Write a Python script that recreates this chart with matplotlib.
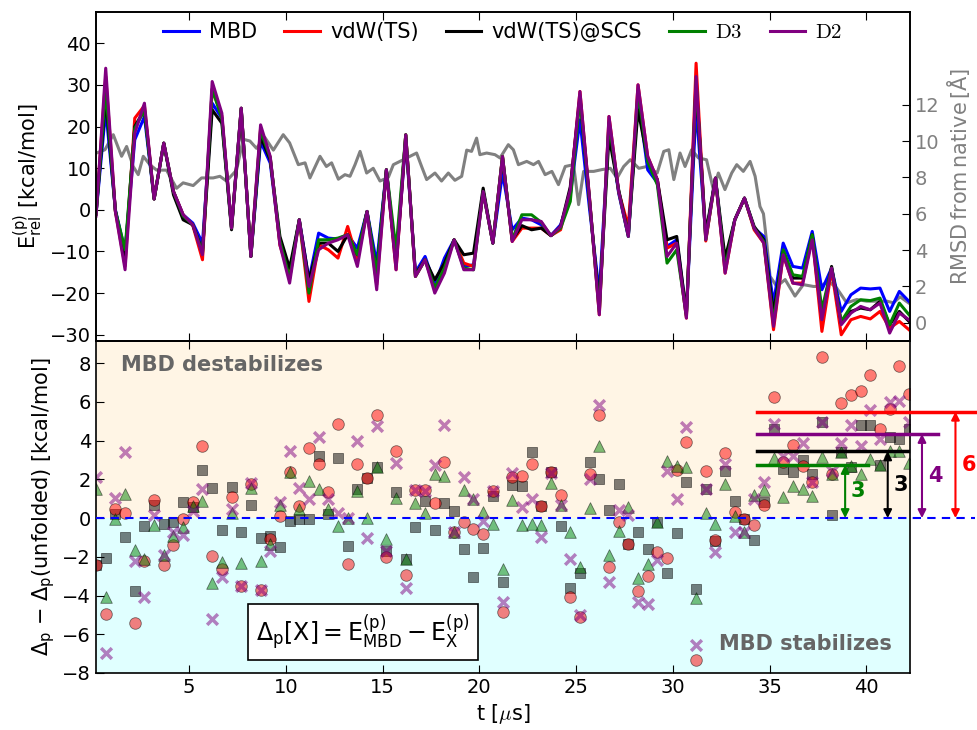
import matplotlib
matplotlib.use("Agg")
import matplotlib.pyplot as plt
import numpy as np

plt.rcParams['mathtext.fontset'] = 'dejavusans'
plt.rcParams['axes.linewidth'] = 1.2

# sampling times along the trajectory [us]
t = np.round(np.arange(85) * 0.5 + 0.2, 1)

# relative energies E_rel^(p) [kcal/mol]
e_mbd = [-1, 24, 0, -10, 16.8, 22.4, 2.6, 16, 4.4, -1.2,
         -3.2, -8, 25.6, 22, -4.4, 24.4, -11.2, 16.4, 11.2, -8,
         -15.5, -2.4, -16.8, -5.6, -6.8, -7, -6, -9.2, -0.4, -12.8,
         9.6, -13, 16.5, -15, -11.2, -18, -11.6, -7.2, -13.6, -13.2,
         4.4, -8, 8.8, -4.8, -2, -2.4, -3.6, -6.2, -3.6, 3.5,
         21.6, 0, -20, 20, 4, -6.4, 27, 9.6, 6.5, -8.8,
         -7.2, -25, 24.8, -6.4, 7.6, -13.6, -2.4, 2.8, -4.4, -6.4,
         -22.4, -8, -13.6, -14, -5.2, -19.2, -14, -24.4, -20.4, -18.8,
         -19, -18.8, -24.4, -19.6, -22]
e_ts = [-1, 32, -0.4, -13.5, 22, 25, 2.6, 16, 4.4, -1.2,
        -3.8, -12, 29, 22.5, -4.4, 24.4, -11.2, 19.5, 12.5, -8.5,
        -16, -2.4, -22, -8.4, -9.6, -11.6, -4, -12, -0.4, -18,
        9.6, -14.4, 18, -16, -12, -19, -14, -7.2, -12.8, -13.6,
        4.4, -8, 12.8, -7.6, -4.4, -4.4, -4.4, -6.2, -4.8, 4.8,
        28.4, 2.5, -25.2, 22.4, 4.4, -4, 30, 12.8, 7.2, -9.2,
        -8, -26, 35.2, -7.5, 7.6, -15.2, -2.4, 2.8, -4.8, -8,
        -28.8, -10.8, -17.6, -17.6, -6.4, -29.2, -14.4, -30, -26.4, -25.6,
        -26.2, -24.4, -28.4, -26.8, -28.8]
e_scs = [-1, 27, -0.2, -11, 20, 24, 2.6, 16, 3.6, -2.4,
         -3.6, -10, 24, 20.8, -4.8, 24, -11.2, 17.6, 12, -6.4,
         -14, -2.4, -17, -8, -8, -10, -6, -10.8, -0.4, -15.2,
         9.6, -13, 18, -15.5, -12, -16.8, -12.8, -7.2, -10.8, -10.4,
         5.2, -8, 12.5, -7.2, -3.8, -4.8, -4.4, -6.2, -4, 5.5,
         27, 2, -23, 17.6, 4.8, -6, 24, 12, 7.2, -7.2,
         -6.4, -25, 30, -5.6, 7.6, -11.6, -2.4, 2.8, -4, -7.2,
         -24.8, -10, -16.4, -16.4, -6, -25.6, -13.6, -27.2, -24.4, -23.6,
         -24, -22, -27.6, -24.4, -26.8]
e_d3 = [-1, 29, -0.3, -9.6, 19.5, 24, 2.6, 16, 4.4, -1.5,
        -3.6, -10.4, 29, 22, -4.4, 24.4, -11.2, 19, 12.5, -7.5,
        -16.5, -2.4, -20, -7.2, -7.2, -6.8, -6, -10.8, -0.4, -15.2,
        9.6, -9.6, 18, -16, -12, -18.8, -14, -7.2, -14, -14.4,
        4.4, -8, 12.8, -7.2, -1.2, -1.2, -3, -6.2, -4.4, 2,
        27, 2, -24.5, 21, 4.4, -6.4, 28.5, 11.5, 6, -12.8,
        -9.6, -25.5, 31, -7.2, 7.6, -14, -2.4, 2.8, -4.4, -7.6,
        -27, -9.6, -15.6, -16, -6, -24, -14, -26.8, -23.2, -21.6,
        -21.8, -21.2, -27.6, -22.4, -25.2]
e_d2 = [-1.5, 34, -0.5, -14.4, 18.4, 25.6, 2.6, 16, 4.4, -1.2,
        -3.6, -10.8, 30.8, 23.2, -4.4, 24.4, -11.2, 20.4, 12.8, -8.4,
        -17.6, -2.4, -18.4, -9.6, -8, -7.2, -6, -13.6, -0.4, -19.2,
        9.6, -14.4, 18, -16, -12, -20, -15.2, -7.2, -14.4, -14.4,
        4.4, -8, 12.8, -7.6, -2.4, -2.4, -2.8, -6.2, -4, 4.8,
        28.4, 2.5, -25.2, 22.4, 4.4, -6.4, 30, 12.8, 7.2, -11.2,
        -8, -26, 32, -7.2, 7.6, -15.2, -2.4, 2.8, -4.4, -8,
        -28, -10.8, -17.6, -18, -7.2, -26.4, -14, -27.6, -24.8, -23.2,
        -24, -22.4, -29.6, -24.8, -26.4]

# RMSD from the native structure [A]
rmsd_t = [0.22, 0.66, 1.09, 1.52, 1.78, 2.12, 2.38, 2.64, 2.98, 3.33,
          3.84, 4.36, 4.70, 5.22, 5.65, 6.25, 6.60, 6.94, 7.46, 7.80,
          8.15, 8.49, 8.92, 9.36, 9.87, 10.20, 10.65, 11.00, 11.25, 11.77,
          12.10, 12.37, 12.72, 13.06, 13.32, 13.58, 13.84, 14.18, 14.52, 14.87,
          15.30, 15.56, 15.90, 16.42, 16.76, 17.02, 17.28, 17.71, 18.05, 18.40,
          18.74, 19.09, 19.35, 19.60, 19.86, 20.03, 20.38, 20.81, 21.07, 21.50,
          21.76, 22.02, 22.45, 22.80, 23.06, 23.40, 23.75, 24.09, 24.44, 24.87,
          25.13, 25.39, 25.91, 26.34, 26.77, 27.12, 27.46, 27.80, 28.24, 28.67,
          29.19, 29.53, 29.79, 30.05, 30.37, 30.63, 30.97, 31.32, 31.74, 32.09,
          32.35, 32.69, 33.04, 33.30, 33.64, 33.99, 34.25, 34.50, 34.68, 34.85,
          35.02, 35.37, 35.80, 36.31, 36.74, 37.26, 37.60, 38.03, 38.46, 38.98,
          39.50, 40.01, 40.53, 41.05, 41.40, 41.74, 42.17]
rmsd = [9.34, 9.52, 10.35, 9.16, 9.7, 8.6, 8.15, 9.16, 8.7, 8.4,
        8.4, 7.4, 7.7, 7.55, 7.97, 7.97, 8.06, 7.8, 8.4, 10.1,
        10.0, 9.6, 10.2, 9.5, 10.35, 9.9, 8.7, 8.8, 7.97, 9.16,
        8.6, 8.8, 7.9, 8.15, 8.06, 8.7, 9.43, 8.24, 8.5, 7.8,
        8.0, 8.7, 8.88, 9.16, 9.34, 8.6, 7.88, 8.24, 7.8, 8.24,
        7.84, 8.06, 9.5, 9.43, 10.16, 9.25, 9.34, 9.25, 9.07, 9.8,
        9.52, 8.7, 8.88, 8.7, 8.88, 8.15, 8.33, 7.6, 8.6, 8.7,
        6.5, 8.33, 8.33, 8.43, 8.5, 7.97, 8.6, 8.97, 8.5, 8.6,
        8.24, 9.43, 9.52, 7.88, 9.34, 8.6, 9.52, 9.07, 8.97, 7.33,
        8.24, 7.33, 8.24, 8.7, 8.33, 8.88, 8.06, 6.4, 6.0, 4.4,
        2.56, 2.0, 2.38, 1.47, 2.1, 2.0, 2.0, 2.29, 1.92, 1.1,
        1.28, 1.19, 1.19, 1.19, 1.1, 1.43, 1.1]

# Delta_p - Delta_p(unfolded) [kcal/mol]
d_ts = [-2.4, -4.97, 0.47, 0.24, -5.4, -2.21, 0.95, -2.44, -1.4, -0.05,
        0.85, 3.7, -1.95, -2.64, 1.07, -3.5, 1.76, -3.7, -1.09, 0.12,
        2.4, 0.64, 3.63, 2.8, 1.33, 4.87, -2.38, 2.8, 2.06, 5.34,
        -2.0, 3.49, -2.95, 1.45, 1.45, 0.76, 2.92, -0.7, -0.22, -0.54,
        -0.83, 1.38, -4.85, 2.1, 2.19, 2.8, 0.64, 2.37, 1.21, -4.08,
        -5.1, 2.28, 5.35, -2.5, -0.22, -1.35, -3.77, -2.99, -1.74, -2.04,
        2.49, 3.92, -7.34, 2.42, -1.14, 3.35, 0.33, -0.05, -0.36, 0.67,
        6.25, 2.92, 3.78, 2.71, 1.85, 8.3, 2.3, 5.94, 6.34, 6.55,
        7.41, 4.58, 5.65, 7.84, 6.42]
d_scs = [-2.4, -2.04, 0.2, -1.0, -3.77, -0.4, 0.69, -0.28, -0.22, 0.81,
         0.6, 2.49, 1.55, -0.62, 1.62, -0.74, 0.67, -1.05, -0.92, -1.47,
         -0.14, -0.02, -0.02, 3.23, 0.2, 3.09, -1.43, 1.5, 2.06, 2.64,
         -1.71, 1.33, -2.09, -0.45, 0.88, -0.6, 0.78, 0.36, -1.57, -3.04,
         -1.52, 1.16, -3.3, 1.71, 1.68, 3.4, 0.64, 2.4, -0.43, -3.59,
         -2.82, 2.88, 2.02, 0.43, 1.76, -1.35, -0.71, -1.61, -0.19, -2.82,
         -0.78, 1.88, -3.68, 1.5, -1.2, 2.45, 0.9, -0.05, -1.14, 0.85,
         4.61, 2.54, 2.4, 3.02, 2.28, 4.95, 0.14, 3.4, 2.63, 4.82,
         4.82, 2.75, 4.2, 4.09, 4.61]
d_d3 = [1.5, -4.06, -0.02, 1.24, -1.64, -2.09, -0.36, -1.92, -0.92, -0.45,
        0.64, 0.86, -3.33, -2.26, 0.29, -2.3, 1.54, -2.21, -1.35, 0.67,
        2.37, 0.47, 1.93, 1.5, 0.47, -0.4, 0.0, 1.38, 0.03, 2.64,
        -1.07, 1.04, -2.09, 0.78, 0.24, 2.26, 2.19, -0.74, 1.45, 1.0,
        0.33, -0.28, -2.64, 0.93, -0.36, -0.28, -0.36, 1.81, 0.67, -0.74,
        -2.5, 0.54, 3.75, -1.9, -0.69, 0.59, -3.07, -2.38, -0.19, 2.94,
        2.71, 2.66, -4.11, 0.26, -0.28, 1.76, 0.12, -0.74, 1.19, 1.47,
        3.09, 1.07, 1.68, 1.5, 1.12, 3.14, 2.3, 3.4, 2.68, 2.28,
        3.06, 2.75, 3.49, 3.49, 2.85]
d_d2 = [2.1, -6.96, 1.02, 3.44, -2.21, -4.08, 0.16, -1.9, -0.74, -0.88,
        0.38, 1.5, -5.2, -3.04, 0.47, -3.5, 1.8, -3.7, -1.7, 0.85,
        3.49, 1.54, 0.98, 4.18, 0.98, 0.29, 0.0, 3.96, -1.05, 4.78,
        -1.71, 2.85, -3.59, 1.45, 1.42, 2.75, 4.82, -0.74, 2.1, 1.0,
        -0.14, 1.38, -4.33, 2.33, 0.59, 0.98, -1.0, 2.33, 0.67, -2.12,
        -5.03, 2.02, 5.82, -3.3, 0.41, 0.16, -4.33, -4.46, -2.16, 2.45,
        0.98, 4.7, -6.53, 1.5, -1.74, 2.8, -0.71, -0.74, 0.98, 1.85,
        4.87, 3.23, 3.23, 3.89, 1.85, 4.99, 2.45, 3.87, 4.82, 3.75,
        5.56, 4.09, 5.99, 6.03, 4.96]

# mean shift over the folded part of the trajectory
mean_shift = {'red': 5.5, 'purple': 4.35, 'black': 3.45, 'green': 2.75}
mean_t0 = 34.37
mean_t1 = {'red': 45.6, 'purple': 43.7, 'black': 42.15, 'green': 40.1}
arrow_t = {'red': 44.6, 'purple': 42.87, 'black': 41.1, 'green': 38.9}

fig = plt.figure(figsize=(9.77, 7.30), dpi=100)
ax1 = fig.add_axes([0.0983, 0.5329, 0.8331, 0.4507])
ax2 = fig.add_axes([0.0983, 0.0781, 0.8331, 0.4548], sharex=ax1)

# --- top: energies and RMSD ---
axr = ax1.twinx()
axr.plot(rmsd_t, rmsd, color='gray', lw=2.2)
axr.set_ylim(-1, 17.1)
axr.set_yticks(range(0, 13, 2))
axr.tick_params(direction='in', length=6, labelsize=14, labelcolor='gray')
axr.set_ylabel(r'$\mathrm{RMSD\,from\,native\,[\AA]}$', fontsize=15, color='gray')
ax1.set_zorder(axr.get_zorder() + 1)
ax1.patch.set_visible(False)

series = [(e_mbd, 'blue', 'MBD'), (e_ts, 'red', 'vdW(TS)'),
          (e_scs, 'black', 'vdW(TS)@SCS'), (e_d3, 'green', r'$\mathrm{D3}$'),
          (e_d2, 'purple', r'$\mathrm{D2}$')]
for vals, c, lab in series:
    ax1.plot(t, vals, color=c, lw=2.2, label=lab)

ax1.set_ylim(-31.5, 47.5)
ax1.set_yticks(range(-30, 41, 10))
ax1.set_xlim(0.2, 42.25)
ax1.tick_params(direction='in', length=6, labelsize=14, top=True, right=False,
                labelbottom=False)
ax1.set_ylabel(r'$\mathrm{E}^{(\mathrm{p})}_{\mathrm{rel}}$ [kcal/mol]', fontsize=15)
leg = ax1.legend(loc='upper center', ncol=5, frameon=False, fontsize=15,
                 handlelength=1.7, columnspacing=1.3, handletextpad=0.5,
                 borderaxespad=0.1)
for txt in leg.get_texts()[3:]:
    txt.set_math_fontfamily('cm')

# --- bottom: stabilization relative to unfolded state ---
ax2.axhspan(0, 9.15, color='orange', alpha=0.1, lw=0)
ax2.axhspan(-8, 0, color='cyan', alpha=0.12, lw=0)

ax2.scatter(t, d_scs, marker='s', s=55, c='black', alpha=0.5, edgecolors='k', linewidths=0.6)
ax2.scatter(t, d_ts, marker='o', s=70, c='red', alpha=0.5, edgecolors='k', linewidths=0.6)
ax2.scatter(t, d_d3, marker='^', s=70, c='green', alpha=0.5, edgecolors='k', linewidths=0.6)
ax2.scatter(t, d_d2, marker='x', s=60, c='purple', alpha=0.5, linewidths=2.5)

ax2.plot([0.2, 45.6], [0, 0], color='blue', ls='--', lw=1.5, dashes=(4, 3),
         clip_on=False, zorder=3)

for c in ['green', 'black', 'purple', 'red']:
    v = mean_shift[c]
    ax2.plot([mean_t0, mean_t1[c]], [v, v], color=c, lw=2.5, clip_on=False, zorder=4)
    ax2.annotate('', xy=(arrow_t[c], v), xytext=(arrow_t[c], 0),
                 arrowprops=dict(arrowstyle='<|-|>', color=c, lw=1.5,
                                 shrinkA=0, shrinkB=0, mutation_scale=12),
                 annotation_clip=False, zorder=4)
    ax2.text(arrow_t[c] + 0.3, v / 2, '%.0f' % v, color=c, fontsize=15,
             fontweight='bold', ha='left', va='center', clip_on=False)

ax2.text(1.5, 7.9, 'MBD destabilizes', fontsize=15, fontweight='bold',
         color='0.4', va='center')
ax2.text(32.4, -6.5, 'MBD stabilizes', fontsize=15, fontweight='bold',
         color='0.4', va='center')
ax2.text(14.0, -5.9,
         r'$\Delta_\mathrm{p}[\mathrm{X}] = \mathrm{E}^{(\mathrm{p})}_{\mathrm{MBD}}'
         r' - \mathrm{E}^{(\mathrm{p})}_{\mathrm{X}}$',
         fontsize=17, ha='center', va='center', zorder=5,
         bbox=dict(boxstyle='square,pad=0.35', fc='white', ec='black', lw=1.2))

ax2.set_ylim(-8, 9.15)
ax2.set_yticks(range(-8, 9, 2))
ax2.set_xticks(range(5, 41, 5))
ax2.set_xlim(0.2, 42.25)
ax2.tick_params(direction='in', length=6, labelsize=14, top=True, right=False)
ax2.set_ylabel(r'$\Delta_\mathrm{p}$ $-$ $\Delta_\mathrm{p}$(unfolded) [kcal/mol]', fontsize=15)
xl = ax2.set_xlabel(r't [$\mu$s]', fontsize=15)
xl.set_math_fontfamily('cm')

fig.savefig('out.png', dpi=100)
